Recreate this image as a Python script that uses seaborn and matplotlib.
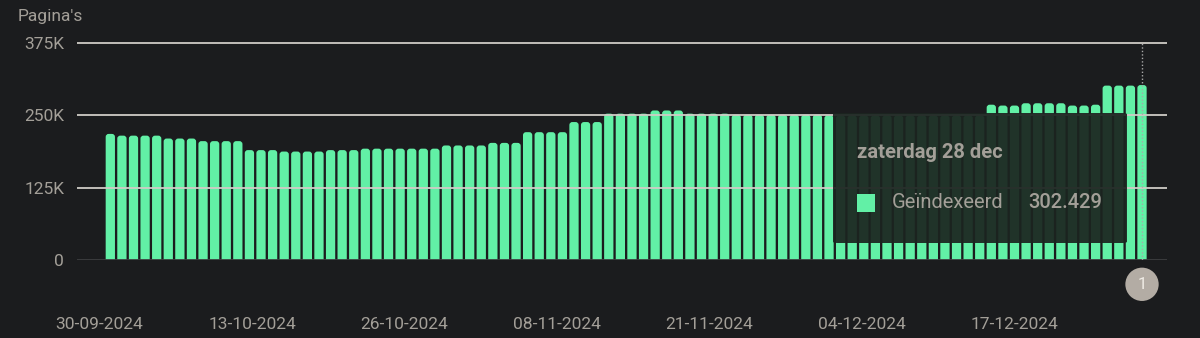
import numpy as np
import pandas as pd
import matplotlib
matplotlib.use("Agg")
import matplotlib.pyplot as plt
from matplotlib.patches import FancyBboxPatch, Rectangle
import seaborn as sns

# ---- data ----
dates = pd.date_range("2024-09-30", "2024-12-28", freq="D")
values = ([218000] + [215000] * 4 + [210000] * 3 + [205500] * 4 + [190000] * 3 +
          [187500] * 4 + [190000] * 3 + [192500] * 7 + [198000] * 4 + [202500] * 3 +
          [221000] * 4 + [238500] * 3 + [253000] * 4 + [258500] * 3 + [253000] * 4 +
          [251000] * 8 + [250000] * 14 + [268500] + [267000] * 2 + [271000] * 4 +
          [267000] * 2 + [268500] + [301500] * 3 + [302429])
yticks = [0, 125000, 250000, 375000]
ytick_labels = ["0", "125K", "250K", "375K"]
tick_every = 13
series_name = "Geïndexeerd"
tooltip_title = "zaterdag 28 dec"
tooltip_value = "302.429"
y_title = "Pagina's"

BG = "#1b1c1e"
GREEN = "#62f0a6"
TXT = "#a39f98"
GRID = "#cfccc6"

sns.set_theme(style="dark")
plt.rcParams["font.family"] = ["Roboto", "DejaVu Sans"]

fig = plt.figure(figsize=(12, 3.38), dpi=100, facecolor=BG)
ax = fig.add_axes([76.7 / 1200, 1 - 260 / 338, (1166.7 - 76.7) / 1200, (260 - 40.2) / 338])
ax.set_facecolor(BG)

df = pd.DataFrame({"idx": np.arange(len(values)), "value": values})
sns.barplot(data=df, x="idx", y="value", color=GREEN, saturation=1, width=0.8,
            ax=ax, zorder=2, linewidth=0)

ax.set_xlim(-2.9, len(values) - 1 + 2.13)
ax.set_ylim(0, 380000)
for s in ax.spines.values():
    s.set_visible(False)

# give the seaborn bars rounded tops (same geometry, rounded corners)
fig.canvas.draw()
px_x = ax.transData.transform((1, 0))[0] - ax.transData.transform((0, 0))[0]
px_y = ax.transData.transform((0, 1))[1] - ax.transData.transform((0, 0))[1]
r_px = 3.0
r_x = r_px / px_x
aspect = (r_px / px_y) / r_x
for p in list(ax.patches):
    if isinstance(p, Rectangle):
        x0, y0, w, h = p.get_x(), p.get_y(), p.get_width(), p.get_height()
        ext = r_px / px_y
        fb = FancyBboxPatch((x0, y0 - ext), w, h + ext,
                            boxstyle=f"round,pad=0,rounding_size={r_x}",
                            mutation_aspect=aspect, facecolor=p.get_facecolor(),
                            edgecolor="none", zorder=2)
        p.remove()
        ax.add_patch(fb)

# gridlines on top of bars
for yv in yticks[1:]:
    ax.axhline(yv, color=GRID, lw=1.3, zorder=3)
ax.axhline(0, color="#3d3e40", lw=1.3, zorder=3)

ax.set_yticks(yticks)
ax.set_yticklabels(ytick_labels)
tick_idx = list(range(0, len(values), tick_every))
tick_pos = np.linspace(-0.93, 78.0, len(tick_idx))
ax.set_xticks(tick_pos)
ax.set_xticklabels([dates[i].strftime("%d-%m-%Y") for i in tick_idx])
ax.tick_params(axis="y", length=0, pad=9, labelsize=12.5, labelcolor=TXT)
ax.tick_params(axis="x", length=0, pad=41, labelsize=12.5, labelcolor=TXT)
ax.set_xlabel("")
ax.set_ylabel("")
ax.grid(False)

# hover line on last bar
last = len(values) - 1
ax.plot([last, last], [0, 375000], color="#a8a8a8", lw=1, ls=(0, (1, 1.5)), zorder=4)

fig.text(18 / 1200, 1 - 17 / 338, y_title, color=TXT, fontsize=12.5, ha="left", va="center")

# tooltip
tt = FancyBboxPatch((833 / 1200, 1 - 243 / 338), (1127 - 833) / 1200, (243 - 113) / 338,
                    boxstyle="round,pad=0,rounding_size=0.004", transform=fig.transFigure,
                    facecolor="#1b2420", edgecolor="none", alpha=0.93, zorder=6)
fig.patches.append(tt)
fig.text(857 / 1200, 1 - 153 / 338, tooltip_title, color=TXT, fontsize=14.5,
         fontweight="bold", ha="left", va="center", zorder=7)
fig.patches.append(Rectangle((857 / 1200, 1 - 212 / 338), 18 / 1200, 18 / 338,
                             transform=fig.transFigure, facecolor=GREEN,
                             edgecolor="none", zorder=7))
fig.text(892 / 1200, 1 - 203 / 338, series_name, color=TXT, fontsize=14.5,
         ha="left", va="center", zorder=7)
fig.text(1028 / 1200, 1 - 203 / 338, tooltip_value, color=TXT, fontsize=14.5,
         fontweight="medium", ha="left", va="center", zorder=7)

# annotation marker below last bar
ax.annotate("1", xy=(last, 0), xytext=(0, -17.5), textcoords="offset points",
            ha="center", va="center", color="#f0ece6", fontsize=12,
            bbox=dict(boxstyle="circle,pad=0.55", fc="#b3aca4", ec="none"),
            annotation_clip=False)

fig.savefig("out.png", dpi=100, facecolor=BG)
